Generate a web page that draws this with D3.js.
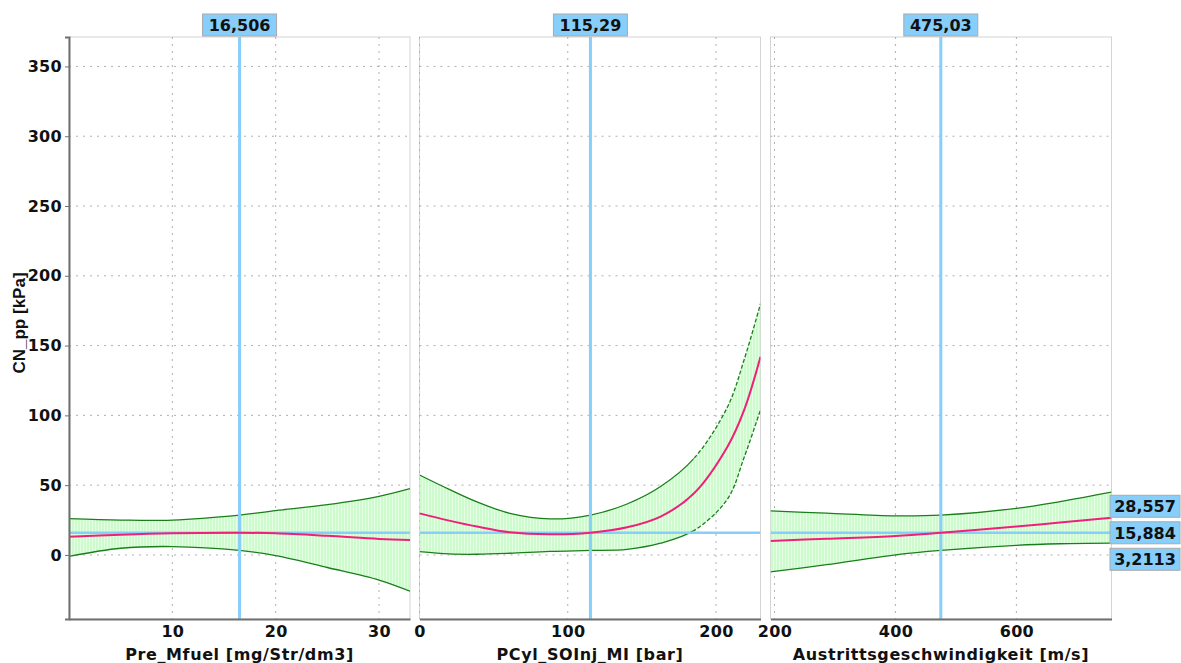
<!DOCTYPE html>
<html>
<head>
<meta charset="utf-8">
<script src="https://cdn.jsdelivr.net/npm/d3@7"></script>
<style>
  body { margin: 0; background: #fff; }
  text { font-family: "DejaVu Sans", Verdana, sans-serif; font-weight: bold; }
</style>
</head>
<body>
<div id="wrapper"></div>
<script>
// ---- data ----
const yTicks = [0, 50, 100, 150, 200, 250, 300, 350];
const yLabel = "CN_pp [kPa]";

const names = ["Pre_Mfuel [mg/Str/dm3]", "PCyl_SOInj_MI [bar]", "Austrittsgeschwindigkeit [m/s]"];
const xDomains = [[0, 33], [0, 230], [193.4, 757.3]];
const xTicks = [[10, 20, 30], [0, 100, 200], [200, 400, 600]];
const cursorX = [16.506, 115.29, 475.03];
const cursorLabels = ["16,506", "115,29", "475,03"];

const predValue = 15.884;
const rightValues = [28.557, 15.884, 3.2113];
const rightLabels = ["28,557", "15,884", "3,2113"];

// panel 1
const p1X = [0, 5, 10, 16.506, 20, 25, 30, 33];
const p1Mean = [13, 14.5, 15.5, 15.884, 15.5, 13.7, 11.5, 10.7];
const p1Upper = [26, 25, 25, 28.557, 31.7, 36, 42, 47.5];
const p1Lower = [-1, 4.8, 6, 3.2113, -0.5, -9, -18, -26];
// panel 2
const p2X = [0, 20, 38.8, 61, 88, 115.29, 140, 162.6, 185, 207.7, 219, 230];
const p2Mean = [29.8, 24.6, 20.3, 16.2, 14.8, 15.884, 19.8, 27.5, 44, 77.6, 104, 142];
const p2Upper = [57.3, 47, 38, 29.8, 25.8, 28.557, 36.5, 49, 69, 106, 140, 180];
const p2Lower = [2.4, 0.7, 0.5, 1.2, 2.5, 3.2113, 4, 8.4, 17.4, 40, 70, 104];
const p2DashFrom = 185;
// panel 3
const p3X = [193.4, 286, 400, 475.03, 600, 672, 757.3];
const p3Mean = [10, 11.6, 13.6, 15.884, 20.3, 23.3, 26.7];
const p3Upper = [31.5, 29.9, 28, 28.557, 33.4, 38.2, 45];
const p3Lower = [-12.2, -7, 0, 3.2113, 6.9, 8, 8.4];

const series = [
  { x: p1X, mean: p1Mean, upper: p1Upper, lower: p1Lower, dashFrom: null },
  { x: p2X, mean: p2Mean, upper: p2Upper, lower: p2Lower, dashFrom: p2DashFrom },
  { x: p3X, mean: p3Mean, upper: p3Upper, lower: p3Lower, dashFrom: null }
];

// ---- layout ----
const width = 1181, height = 663;
const plotTop = 37, plotBottom = 619;
const panelLefts = [69, 419.5, 770.5];
const panelWidth = 341;

const svg = d3.select("#wrapper").append("svg")
  .attr("width", width)
  .attr("height", height);

const defs = svg.append("defs");
const pat = defs.append("pattern")
  .attr("id", "hatch")
  .attr("patternUnits", "userSpaceOnUse")
  .attr("width", 3)
  .attr("height", 10);
pat.append("rect").attr("width", 3).attr("height", 10).attr("fill", "#cdfbcd");
pat.append("rect").attr("x", 2).attr("width", 1).attr("height", 10).attr("fill", "#e4ffe4");

const yScale = d3.scaleLinear()
  .domain([-45.9, 371.1])
  .range([plotBottom, plotTop]);

series.forEach((s, i) => {
  const x0 = panelLefts[i];
  const xScale = d3.scaleLinear()
    .domain(xDomains[i])
    .range([x0, x0 + panelWidth]);

  const g = svg.append("g");

  defs.append("clipPath").attr("id", "clip" + i)
    .append("rect")
    .attr("x", x0).attr("y", plotTop)
    .attr("width", panelWidth).attr("height", plotBottom - plotTop);

  // frame
  g.append("rect")
    .attr("x", x0).attr("y", plotTop)
    .attr("width", panelWidth).attr("height", plotBottom - plotTop)
    .attr("fill", "#fff")
    .attr("stroke", "#d4d4d4");

  // grid
  g.selectAll(".hgrid").data(yTicks).enter().append("line")
    .attr("x1", x0).attr("x2", x0 + panelWidth)
    .attr("y1", d => yScale(d)).attr("y2", d => yScale(d))
    .attr("stroke", "#b0b0b0")
    .attr("stroke-dasharray", "2,5");
  g.selectAll(".vgrid").data(xTicks[i]).enter().append("line")
    .attr("x1", d => xScale(d)).attr("x2", d => xScale(d))
    .attr("y1", plotTop).attr("y2", plotBottom)
    .attr("stroke", "#b0b0b0")
    .attr("stroke-dasharray", "2,5");

  const pts = s.x.map((xv, k) => ({ x: xv, mean: s.mean[k], upper: s.upper[k], lower: s.lower[k] }));
  const curve = d3.curveCatmullRom.alpha(0.5);

  const plot = g.append("g").attr("clip-path", `url(#clip${i})`);

  // confidence band
  plot.append("path")
    .datum(pts)
    .attr("fill", "url(#hatch)")
    .attr("d", d3.area()
      .x(d => xScale(d.x))
      .y0(d => yScale(d.lower))
      .y1(d => yScale(d.upper))
      .curve(curve));

  // band edges (dashed where extrapolated)
  ["upper", "lower"].forEach(key => {
    const line = d3.line().x(d => xScale(d.x)).y(d => yScale(d[key])).curve(curve);
    if (s.dashFrom === null) {
      plot.append("path").datum(pts)
        .attr("fill", "none").attr("stroke", "#1a7f1a").attr("stroke-width", 1.3)
        .attr("d", line);
    } else {
      const cut = xScale(s.dashFrom);
      const id = `cut${i}${key}`;
      defs.append("clipPath").attr("id", id + "a").append("rect")
        .attr("x", x0).attr("y", plotTop).attr("width", cut - x0).attr("height", plotBottom - plotTop);
      defs.append("clipPath").attr("id", id + "b").append("rect")
        .attr("x", cut).attr("y", plotTop).attr("width", x0 + panelWidth - cut).attr("height", plotBottom - plotTop);
      plot.append("path").datum(pts)
        .attr("clip-path", `url(#${id}a)`)
        .attr("fill", "none").attr("stroke", "#1a7f1a").attr("stroke-width", 1.3)
        .attr("d", line);
      plot.append("path").datum(pts)
        .attr("clip-path", `url(#${id}b)`)
        .attr("fill", "none").attr("stroke", "#1a7f1a").attr("stroke-width", 1.3)
        .attr("stroke-dasharray", "4,2")
        .attr("d", line);
    }
  });

  // cursor lines
  plot.append("line")
    .attr("x1", x0).attr("x2", x0 + panelWidth)
    .attr("y1", yScale(predValue)).attr("y2", yScale(predValue))
    .attr("stroke", "#87cefa").attr("stroke-width", 2.5);
  plot.append("line")
    .attr("x1", xScale(cursorX[i])).attr("x2", xScale(cursorX[i]))
    .attr("y1", plotTop).attr("y2", plotBottom)
    .attr("stroke", "#87cefa").attr("stroke-width", 3);

  // mean line
  plot.append("path").datum(pts)
    .attr("fill", "none").attr("stroke", "#f0207a").attr("stroke-width", 2)
    .attr("d", d3.line().x(d => xScale(d.x)).y(d => yScale(d.mean)).curve(curve));

  // x axis
  const xAxis = g.append("g")
    .attr("transform", `translate(0,${plotBottom})`)
    .call(d3.axisBottom(xScale).tickValues(xTicks[i]).tickSize(0).tickPadding(7));
  xAxis.select(".domain").attr("stroke", "#707070").attr("stroke-width", 2);
  xAxis.selectAll("text")
    .attr("fill", "#111")
    .style("font-size", "16px")
    .style("letter-spacing", "0.3px")
    .style("font-family", "DejaVu Sans")
    .style("font-weight", "bold");

  g.append("text")
    .attr("x", x0 + panelWidth / 2)
    .attr("y", 660)
    .attr("text-anchor", "middle")
    .style("font-size", "16px")
    .style("letter-spacing", "0.6px")
    .attr("fill", "#111")
    .text(names[i]);

  // top value label
  const cx = xScale(cursorX[i]);
  g.append("rect")
    .attr("x", cx - 37).attr("y", 14)
    .attr("width", 74).attr("height", 22)
    .attr("fill", "#87cefa").attr("stroke", "#aaa");
  g.append("text")
    .attr("x", cx).attr("y", 31)
    .attr("text-anchor", "middle")
    .style("font-size", "16px")
    .attr("fill", "#111")
    .text(cursorLabels[i]);
});

// y axis
const yAxis = svg.append("g")
  .attr("transform", `translate(${panelLefts[0]},0)`)
  .call(d3.axisLeft(yScale).tickValues(yTicks).tickSize(4).tickPadding(3));
yAxis.select(".domain").attr("stroke", "#707070").attr("stroke-width", 2);
yAxis.selectAll(".tick line").attr("stroke", "#707070");
yAxis.selectAll("text")
  .attr("fill", "#111")
  .style("font-size", "16px")
  .style("letter-spacing", "0.3px")
  .style("font-family", "DejaVu Sans")
  .style("font-weight", "bold");

svg.append("text")
  .attr("transform", "translate(25,323) rotate(-90)")
  .attr("text-anchor", "middle")
  .style("font-family", "Liberation Sans, Arial, sans-serif")
  .style("font-size", "17px")
  .attr("fill", "#111")
  .text(yLabel);

// right-hand prediction labels, stacked so they do not overlap
const mid = yScale(rightValues[1]);
const boxY = [mid - 26.5, mid, mid + 26.5];
rightValues.forEach((v, k) => {
  svg.append("rect")
    .attr("x", 1110).attr("y", boxY[k] - 11)
    .attr("width", 70).attr("height", 22)
    .attr("fill", "#87cefa").attr("stroke", "#aaa");
  svg.append("text")
    .attr("x", 1145).attr("y", boxY[k] + 6)
    .attr("text-anchor", "middle")
    .style("font-size", "16px")
    .attr("fill", "#111")
    .text(rightLabels[k]);
});
</script>
</body>
</html>
